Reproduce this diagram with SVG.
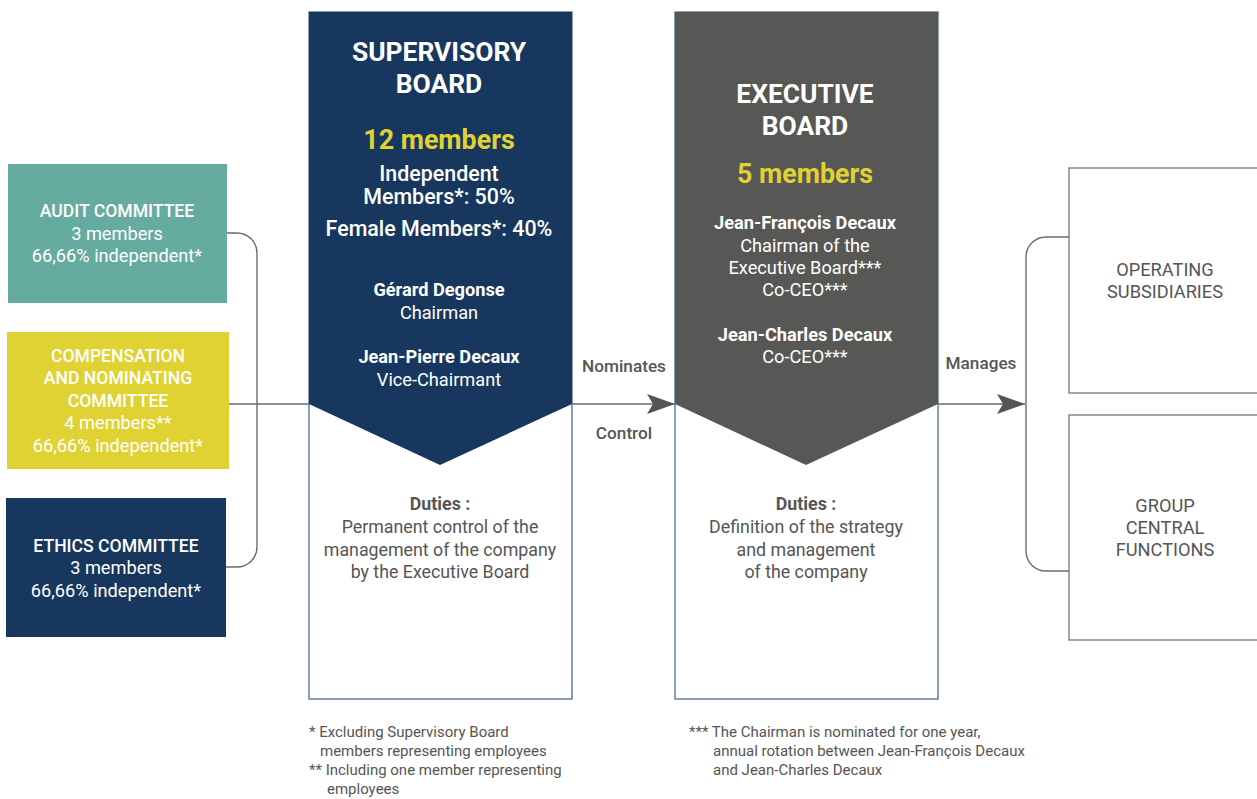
<svg xmlns="http://www.w3.org/2000/svg" width="1257" height="799" viewBox="0 0 1257 799">
<style>
text{font-family:Roboto,"Liberation Sans",sans-serif;text-anchor:middle}
.w{fill:#fff}
.c{font-size:18.2px}
.cb{font-size:17.6px;font-weight:500}
.t{font-size:26.4px;font-weight:700;fill:#fff}
.y{font-size:26.8px;font-weight:700;fill:#e0d232}
.s{font-size:21.4px;font-weight:500;fill:#fff}
.nb{font-size:18.2px;font-weight:700;fill:#fff}
.n{font-size:18.2px;fill:#fff}
.g{font-size:17.8px;fill:#555}
.gb{font-size:17.8px;font-weight:700;fill:#555}
.gc{font-size:18.2px;fill:#555}
.lab{font-size:17.2px;font-weight:500;fill:#555}
.fn{font-size:15px;fill:#555;text-anchor:start}
.frame{fill:#fff;stroke:#4f6b91;stroke-width:1.3}
.box{fill:#fff;stroke:#777;stroke-width:1.3}
.con{fill:none;stroke:#6b6b6b;stroke-width:1.4}
</style>
<defs>
<marker id="ah" viewBox="0 0 28 20" refX="28" refY="10" markerWidth="28" markerHeight="20" markerUnits="userSpaceOnUse" orient="auto">
<path d="M0,0 L28,10 L0,20 L6,10 Z" fill="#555"/>
</marker>
</defs>

<g id="connectors">
<path class="con" d="M227,233 H237 A20,20 0 0 1 257,253 V547 A20,20 0 0 1 237,567 H226"/>
<path class="con" d="M229,404 H309"/>
<path class="con" d="M572,404 H675" marker-end="url(#ah)"/>
<path class="con" d="M938,404 H1025" marker-end="url(#ah)"/>
<path class="con" d="M1069,237 H1046 A20,20 0 0 0 1026,257 V551 A20,20 0 0 0 1046,571 H1069"/>
<text class="lab" x="624" y="372">Nominates</text>
<text class="lab" x="624" y="439">Control</text>
<text class="lab" x="981" y="369">Manages</text>
</g>

<g id="audit">
<rect x="8" y="164" width="219" height="139" fill="#66ab9f"/>
<text class="cb w" x="117" y="217">AUDIT COMMITTEE</text>
<text class="c w" x="117" y="240">3 members</text>
<text class="c w" x="117" y="262">66,66% independent*</text>
</g>

<g id="compensation">
<rect x="7" y="332" width="222" height="137" fill="#e0d232"/>
<text class="cb w" x="118" y="362">COMPENSATION</text>
<text class="cb w" x="118" y="384">AND NOMINATING</text>
<text class="cb w" x="118" y="407">COMMITTEE</text>
<text class="c w" x="118" y="429">4 members**</text>
<text class="c w" x="118" y="452">66,66% independent*</text>
</g>

<g id="ethics">
<rect x="6" y="498" width="220" height="139" fill="#17375e"/>
<text class="cb w" x="116" y="552">ETHICS COMMITTEE</text>
<text class="c w" x="116" y="574">3 members</text>
<text class="c w" x="116" y="597">66,66% independent*</text>
</g>

<g id="supervisory">
<rect class="frame" x="309" y="12" width="263" height="687"/>
<polygon points="309,12 572,12 572,404 440,465 309,404" fill="#17375e"/>
<text class="t" x="439" y="61">SUPERVISORY</text>
<text class="t" x="439" y="93">BOARD</text>
<text class="y" x="439" y="149">12 members</text>
<text class="s" x="439" y="181">Independent</text>
<text class="s" x="439" y="204">Members*: 50%</text>
<text class="s" x="439" y="236">Female Members*: 40%</text>
<text class="nb" x="439" y="296">Gérard Degonse</text>
<text class="n" x="439" y="319">Chairman</text>
<text class="nb" x="439" y="363">Jean-Pierre Decaux</text>
<text class="n" x="439" y="386">Vice-Chairmant</text>
<text class="gb" x="440" y="510">Duties :</text>
<text class="g" x="440" y="533">Permanent control of the</text>
<text class="g" x="440" y="556">management of the company</text>
<text class="g" x="440" y="578">by the Executive Board</text>
</g>

<g id="executive">
<rect class="frame" x="675" y="12" width="263" height="687"/>
<polygon points="675,12 938,12 938,404 806,465 675,404" fill="#575756"/>
<text class="t" x="805" y="103">EXECUTIVE</text>
<text class="t" x="805" y="135">BOARD</text>
<text class="y" x="805" y="183">5 members</text>
<text class="nb" x="805" y="229">Jean-François Decaux</text>
<text class="n" x="805" y="252">Chairman of the</text>
<text class="n" x="805" y="274">Executive Board***</text>
<text class="n" x="805" y="296">Co-CEO***</text>
<text class="nb" x="805" y="341">Jean-Charles Decaux</text>
<text class="n" x="805" y="363">Co-CEO***</text>
<text class="gb" x="806" y="510">Duties :</text>
<text class="g" x="806" y="533">Definition of the strategy</text>
<text class="g" x="806" y="556">and management</text>
<text class="g" x="806" y="578">of the company</text>
</g>

<g id="operating">
<rect class="box" x="1069" y="168" width="200" height="225"/>
<text class="gc" x="1165" y="276">OPERATING</text>
<text class="gc" x="1165" y="298">SUBSIDIARIES</text>
</g>

<g id="central">
<rect class="box" x="1069" y="415" width="200" height="225"/>
<text class="gc" x="1165" y="512">GROUP</text>
<text class="gc" x="1165" y="534">CENTRAL</text>
<text class="gc" x="1165" y="556">FUNCTIONS</text>
</g>

<g id="footnotes">
<text class="fn" x="309" y="737">* Excluding Supervisory Board</text>
<text class="fn" x="320" y="756">members representing employees</text>
<text class="fn" x="309" y="775">** Including one member representing</text>
<text class="fn" x="327" y="794">employees</text>
<text class="fn" x="689" y="737">*** The Chairman is nominated for one year,</text>
<text class="fn" x="713" y="756">annual rotation between Jean-François Decaux</text>
<text class="fn" x="713" y="775">and Jean-Charles Decaux</text>
</g>
</svg>
